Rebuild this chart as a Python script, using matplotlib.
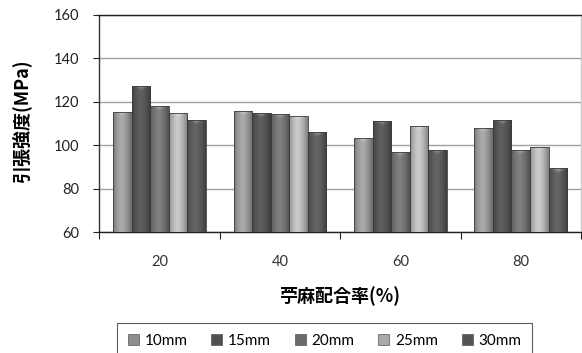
import numpy as np
import matplotlib.pyplot as plt
from matplotlib.colors import to_rgb

plt.rcParams['font.family'] = ['Lato', 'Noto Sans CJK JP', 'DejaVu Sans']

# 苧麻配合率ごとの引張強度 (繊維長別)
categories = ['20', '40', '60', '80']
series_names = ['10mm', '15mm', '20mm', '25mm', '30mm']
values = {
    '10mm': [115.2, 115.9, 103.5, 108.1],
    '15mm': [127.4, 115.0, 111.3, 111.7],
    '20mm': [118.0, 114.4, 96.8, 97.8],
    '25mm': [114.8, 113.6, 108.9, 99.2],
    '30mm': [111.7, 106.1, 97.8, 89.4],
}
colors = ['#8e8e8e', '#4f4f4f', '#6b6b6b', '#a9a9a9', '#545454']

fig = plt.figure(figsize=(5.82, 3.53), dpi=100)
ax = fig.add_axes([0.1706, 0.3419, 0.8276, 0.6165])

x = np.arange(len(categories))
width = 0.154
n = len(series_names)


def shade(ax, patch, base):
    """バーに横方向のグラデーションと上端のハイライトをつける"""
    x0, y0 = patch.get_x(), patch.get_y()
    w, h = patch.get_width(), patch.get_height()
    cols = np.linspace(0, 1, 40)
    prof = 1.2 - 1.1 * np.abs(cols - 0.45) ** 1.5
    body = np.clip(np.array(to_rgb(base))[None, None, :] * prof[None, :, None], 0, 1)
    im = ax.imshow(body.repeat(2, axis=0), extent=(x0, x0 + w, y0, y0 + h),
                   aspect='auto', origin='lower', zorder=3, interpolation='bilinear')
    im.set_clip_path(patch)
    # 上端のベベル (中央が明るい三角形)
    top_h = 2.4
    cap = np.ones((20, 40, 4))
    rr = np.linspace(0, 1, 20)[:, None]
    cc = np.abs(cols - 0.5)[None, :] * 2
    cap[..., 3] = np.clip(0.45 * (rr - cc * 0.9), 0, 0.45)
    im2 = ax.imshow(cap, extent=(x0, x0 + w, y0 + h - top_h, y0 + h),
                    aspect='auto', origin='lower', zorder=3.5, interpolation='bilinear')
    im2.set_clip_path(patch)


for i, name in enumerate(series_names):
    offs = (i - (n - 1) / 2) * width
    bars = ax.bar(x + offs, np.array(values[name]) - 60, width, bottom=60,
                  color=colors[i], edgecolor='#3c3c3c', linewidth=0.6,
                  label=name, zorder=2)
    for p in bars:
        shade(ax, p, colors[i])
        p.set_facecolor('none')
        p.set_zorder(4)

ax.set_xlim(-0.5, len(categories) - 0.5)
ax.set_ylim(60, 160)
ax.set_yticks(np.arange(60, 161, 20))
ax.yaxis.grid(True, color='#a0a0a0', linewidth=1.0, zorder=0)
ax.set_axisbelow(True)

ax.set_xticks(np.arange(-0.5, len(categories), 1.0))
ax.set_xticklabels([])
ax.set_xticks(x, minor=True)
ax.set_xticklabels(categories, minor=True)
ax.tick_params(axis='x', which='major', length=5, direction='out', color='#222222')
ax.tick_params(axis='x', which='minor', length=0, pad=16, labelsize=10.5, labelcolor='#333333')
ax.tick_params(axis='y', length=4, direction='out', color='#222222', labelsize=10.5,
               labelcolor='#222222', pad=10.5)

ax.spines['left'].set_color('#333333')
ax.spines['bottom'].set_color('#222222')
ax.spines['top'].set_color('#222222')
ax.spines['right'].set_color('#c8c8c8')
for s in ax.spines.values():
    s.set_linewidth(1.0)

ax.set_ylabel('引張強度(MPa)', fontsize=13, fontweight='bold',
              family=['Noto Sans CJK JP', 'DejaVu Sans'])
ax.yaxis.set_label_coords(-0.142, 0.51)
ax.set_xlabel('苧麻配合率(%)', fontsize=13, fontweight='bold',
              family=['Noto Sans CJK JP', 'DejaVu Sans'], labelpad=13)

handles = [plt.Rectangle((0, 0), 1, 1, facecolor=c, edgecolor='#555555', linewidth=0.5)
           for c in colors]
leg = fig.legend(handles, series_names, loc='upper center', ncol=5,
                 bbox_to_anchor=(0.558, 1 - 323 / 353), borderaxespad=0,
                 fontsize=11, frameon=True, fancybox=False, edgecolor='#333333',
                 handlelength=0.7, handleheight=0.7, handletextpad=0.4,
                 columnspacing=1.55, borderpad=0.7)
leg.get_frame().set_linewidth(0.8)

fig.savefig('out.png', dpi=100)
